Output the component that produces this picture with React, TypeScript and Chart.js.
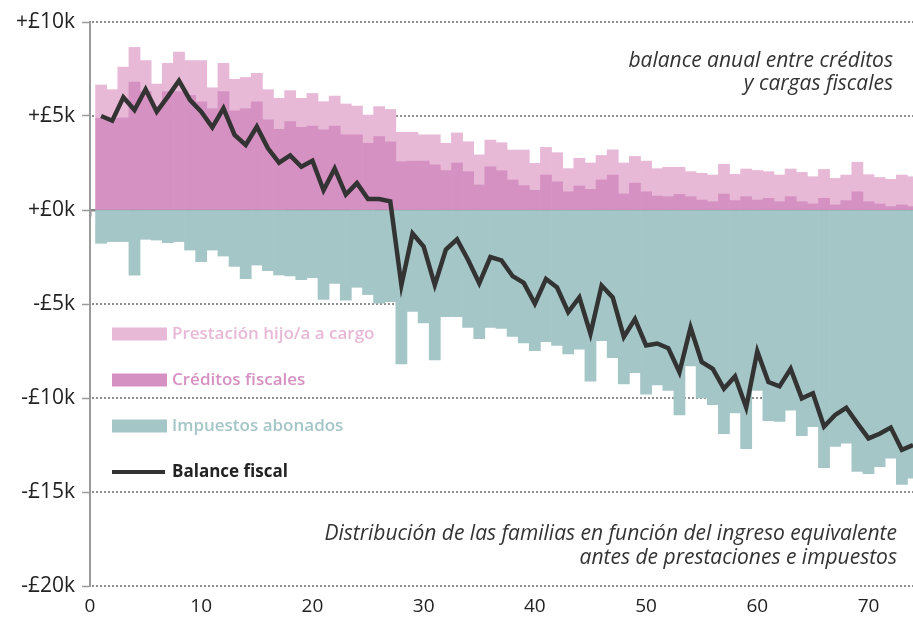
import React, { useEffect, useRef } from 'react';
import { Chart, registerables } from 'chart.js';

Chart.register(...registerables);

// Percentile of families (equivalised income before benefits and taxes)
const families = [
  1, 2, 3, 4, 5, 6, 7, 8, 9, 10, 11, 12, 13, 14, 15, 16, 17, 18, 19, 20,
  21, 22, 23, 24, 25, 26, 27, 28, 29, 30, 31, 32, 33, 34, 35, 36, 37, 38, 39, 40,
  41, 42, 43, 44, 45, 46, 47, 48, 49, 50, 51, 52, 53, 54, 55, 56, 57, 58, 59, 60,
  61, 62, 63, 64, 65, 66, 67, 68, 69, 70, 71, 72, 73, 74,
];

// values in £ thousands
const creditos = [
  4.88, 4.88, 4.9, 6.8, 6.3, 5.5, 6.3, 6.3, 6.1, 5.76, 5.4, 6.3, 5.28, 5.4, 5.76, 4.8, 4.29, 4.7, 4.4, 4.47,
  4.26, 4.47, 4.0, 4.0, 3.55, 3.9, 3.63, 2.57, 2.6, 2.6, 2.4, 2.1, 2.5, 2.04, 1.33, 2.3, 2.09, 1.6, 1.3, 1.05,
  1.86, 1.5, 0.97, 1.28, 1.1, 1.6, 1.86, 0.85, 1.43, 0.97, 0.74, 0.71, 0.83, 0.71, 0.53, 0.44, 0.85, 0.5, 0.71, 0.53,
  0.62, 0.44, 0.71, 0.44, 0.32, 0.62, 0.27, 0.5, 0.97, 0.44, 0.32, 0.18, 0.27, 0.18,
];

const prestacion = [
  1.77, 1.52, 2.7, 1.85, 1.65, 1.2, 1.5, 2.1, 1.85, 2.19, 1.1, 1.5, 1.67, 1.65, 1.51, 1.6, 1.65, 1.65, 1.54, 1.73,
  1.5, 1.59, 1.64, 1.53, 1.5, 1.6, 1.72, 1.56, 1.53, 1.4, 1.6, 1.45, 1.6, 1.59, 1.6, 1.42, 1.49, 1.59, 1.89, 1.43,
  1.47, 1.55, 1.23, 1.47, 1.4, 1.3, 1.34, 1.65, 1.42, 1.63, 1.46, 1.56, 1.44, 1.33, 1.42, 1.42, 1.58, 1.4, 1.47, 1.57,
  1.42, 1.42, 1.47, 1.56, 1.45, 1.54, 1.41, 1.36, 1.57, 1.44, 1.41, 1.45, 1.59, 1.59,
];

const impuestos = [
  -1.77, -1.68, -1.68, -3.46, -1.56, -1.6, -1.74, -1.68, -2.13, -2.75, -2.13, -2.45, -3.0, -3.65, -2.93, -3.23, -3.46, -3.5, -3.7, -3.6,
  -4.75, -3.9, -4.79, -4.11, -4.5, -4.96, -4.88, -8.19, -5.4, -6.0, -7.98, -5.67, -5.67, -6.25, -6.85, -6.25, -6.3, -6.72, -7.07, -7.48,
  -7.0, -7.2, -7.65, -7.4, -9.1, -6.95, -7.85, -9.25, -8.65, -9.8, -9.3, -9.6, -10.9, -8.3, -10.0, -10.35, -11.9, -10.8, -12.7, -9.6,
  -11.2, -11.25, -10.65, -12.0, -11.52, -13.7, -12.58, -12.4, -13.9, -14.02, -13.65, -13.2, -14.6, -14.27,
];

const balance = [
  5.0, 4.75, 6.0, 5.32, 6.42, 5.23, 6.03, 6.88, 5.85, 5.23, 4.4, 5.41, 3.99, 3.46, 4.43, 3.28, 2.52, 2.9, 2.3, 2.62,
  1.05, 2.2, 0.82, 1.43, 0.58, 0.58, 0.46, -4.0, -1.25, -1.95, -3.99, -2.1, -1.56, -2.66, -3.9, -2.5, -2.68, -3.52, -3.88, -4.98,
  -3.67, -4.12, -5.43, -4.65, -6.58, -4.02, -4.65, -6.75, -5.8, -7.2, -7.1, -7.35, -8.63, -6.25, -8.08, -8.45, -9.5, -8.85, -10.5, -7.52,
  -9.15, -9.38, -8.45, -10.02, -9.75, -11.52, -10.9, -10.52, -11.35, -12.15, -11.9, -11.57, -12.76, -12.5,
];

const yTickValues = [-20, -15, -10, -5, 0, 5, 10];
const xTickValues = [0, 10, 20, 30, 40, 50, 60, 70];
const noteTop = ['balance anual entre créditos', 'y cargas fiscales'];
const noteBottom = [
  'Distribución de las familias en función del ingreso equivalente',
  'antes de prestaciones e impuestos',
];

const FONT = "'Open Sans', 'DejaVu Sans', sans-serif";
const LIGHT = '#e7b9d7';
const DARK = '#d691c3';
const TEAL = '#a5c6c7';
const LINE = '#333333';
const GRID = '#8e8e8e';
const AXIS = '#9a9a9a';

const toPoints = (vals: number[]) => families.map((f, i) => ({ x: f, y: vals[i] }));

const overlayPlugin = {
  id: 'overlay',
  afterDraw(chart: any) {
    const { ctx, chartArea, scales } = chart;
    ctx.save();
    // annotations
    ctx.fillStyle = '#333333';
    ctx.textAlign = 'right';
    ctx.textBaseline = 'middle';
    ctx.font = `italic 21px ${FONT}`;
    ctx.fillText(noteTop[0], chartArea.right - 20, 61);
    ctx.fillText(noteTop[1], chartArea.right - 20, 84);
    ctx.fillText(noteBottom[0], chartArea.right - 16, 534);
    ctx.fillText(noteBottom[1], chartArea.right - 16, 558);

    // legend
    const order = [2, 1, 3, 0];
    const x0 = chartArea.left + 22;
    const sw = 55;
    let y = 334;
    ctx.textAlign = 'left';
    for (const di of order) {
      const ds = chart.data.datasets[di];
      if (ds.type === 'line') {
        ctx.strokeStyle = ds.borderColor;
        ctx.lineWidth = 4;
        ctx.beginPath();
        ctx.moveTo(x0, y);
        ctx.lineTo(x0 + sw - 2, y);
        ctx.stroke();
        ctx.fillStyle = '#222222';
        ctx.font = `bold 17px ${FONT}`;
      } else {
        ctx.fillStyle = ds.backgroundColor;
        ctx.fillRect(x0, y - 6.5, sw, 13);
        ctx.font = `600 17px ${FONT}`;
      }
      ctx.fillText(ds.label, x0 + sw + 5, y);
      y += 46;
    }

    // dotted horizontal reference lines, placed behind everything already drawn
    ctx.globalCompositeOperation = 'destination-over';
    ctx.strokeStyle = GRID;
    ctx.lineWidth = 2;
    ctx.setLineDash([2, 2]);
    for (const v of yTickValues) {
      if (v === 0) continue;
      const gy = Math.round(scales.y.getPixelForValue(v));
      ctx.beginPath();
      ctx.moveTo(chartArea.left + 2, gy);
      ctx.lineTo(chartArea.right, gy);
      ctx.stroke();
    }
    ctx.restore();
  },
};

export default function App() {
  const ref = useRef<HTMLCanvasElement | null>(null);

  useEffect(() => {
    if (!ref.current) return;
    const chart = new Chart(ref.current, {
      type: 'bar',
      data: {
        datasets: [
          {
            type: 'line',
            label: 'Balance fiscal',
            data: toPoints(balance),
            borderColor: LINE,
            borderWidth: 4.5,
            pointRadius: 0,
            tension: 0,
            stack: 'line',
            order: 0,
          } as any,
          {
            type: 'bar',
            label: 'Créditos fiscales',
            data: toPoints(creditos),
            backgroundColor: DARK,
            stack: 'bars',
            order: 1,
          },
          {
            type: 'bar',
            label: 'Prestación hijo/a a cargo',
            data: toPoints(prestacion),
            backgroundColor: LIGHT,
            stack: 'bars',
            order: 1,
          },
          {
            type: 'bar',
            label: 'Impuestos abonados',
            data: toPoints(impuestos),
            backgroundColor: TEAL,
            stack: 'bars',
            order: 1,
          },
        ],
      },
      options: {
        animation: false,
        responsive: false,
        devicePixelRatio: 1,
        layout: { padding: { top: 22, right: 0, bottom: 0, left: 0 } },
        datasets: {
          bar: { barPercentage: 1, categoryPercentage: 1, borderWidth: 0 },
        } as any,
        plugins: {
          legend: { display: false },
          tooltip: { enabled: false },
        },
        scales: {
          x: {
            type: 'linear',
            position: 'bottom',
            min: 0,
            max: 74,
            offset: false,
            grid: { display: false, drawTicks: false, offset: false },
            border: { display: false },
            afterBuildTicks: (s: any) => {
              s.ticks = xTickValues.map((v) => ({ value: v }));
            },
            ticks: {
              stepSize: 10,
              includeBounds: false,
              padding: 9,
              color: '#222222',
              font: { family: FONT, size: 19 },
              maxRotation: 0,
            },
            afterFit: (s: any) => {
              s.height = 37;
            },
          },
          x0: {
            type: 'linear',
            axis: 'x',
            position: { y: 0 },
            min: 0,
            max: 74,
            offset: false,
            z: 1,
            afterBuildTicks: (s: any) => {
              s.ticks = xTickValues.map((v) => ({ value: v }));
            },
            ticks: { display: false, stepSize: 10, includeBounds: false },
            grid: {
              drawOnChartArea: false,
              drawTicks: true,
              tickLength: 5,
              tickColor: '#8a8a8a',
              tickWidth: 2,
              offset: false,
            },
            border: { display: true, color: '#8a8a8a', width: 2.5 },
          } as any,
          y: {
            type: 'linear',
            stacked: true,
            min: -20,
            max: 10,
            afterBuildTicks: (s: any) => {
              s.ticks = yTickValues.map((v) => ({ value: v }));
            },
            ticks: {
              stepSize: 5,
              padding: 7,
              color: '#222222',
              font: { family: FONT, size: 21 },
              callback: (v: any) => (Number(v) >= 0 ? `+£${v}k` : `-£${Math.abs(Number(v))}k`),
            },
            grid: {
              drawOnChartArea: false,
              color: AXIS,
              tickColor: AXIS,
              tickLength: 8,
              tickWidth: 1.5,
            } as any,
            border: { display: true, color: AXIS, width: 2 },
            afterFit: (s: any) => {
              s.width = 90;
            },
          },
        },
      },
      plugins: [overlayPlugin],
    });
    return () => chart.destroy();
  }, []);

  return (
    <div style={{ position: 'fixed', left: 0, top: 0, width: 913, height: 623, background: '#ffffff' }}>
      <canvas ref={ref} width={913} height={623} style={{ display: 'block' }} />
    </div>
  );
}
